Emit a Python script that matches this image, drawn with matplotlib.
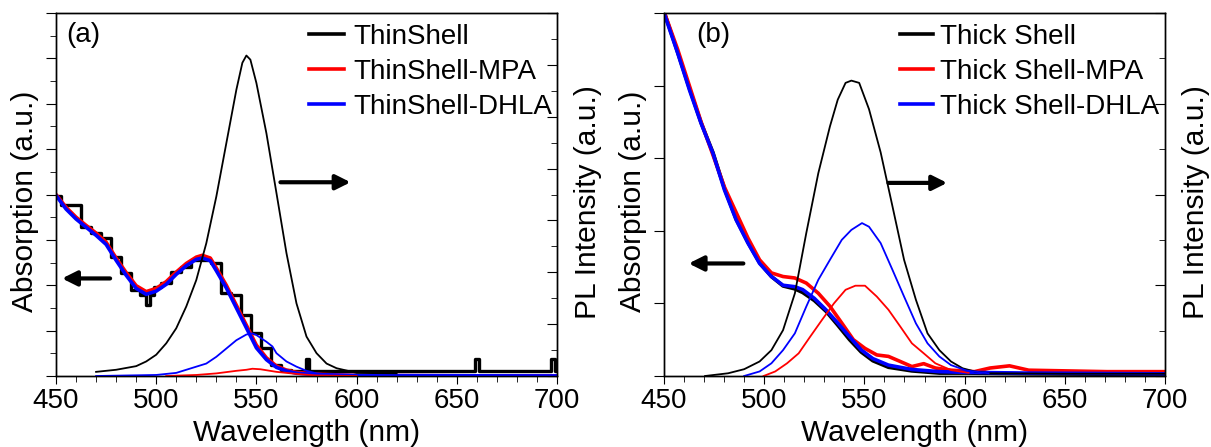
import numpy as np
import matplotlib
matplotlib.use("Agg")
import matplotlib.pyplot as plt
from matplotlib.ticker import MultipleLocator, NullFormatter

plt.rcParams['font.family'] = ['Liberation Sans', 'DejaVu Sans']

# ---------------- panel (a): thin shell ----------------
# absorption (left axis, arbitrary units 0..8)
wl_abs_a = [450, 455, 460, 465, 470, 475, 480, 485, 490, 495, 500, 505, 510, 515,
            520, 523, 527, 530, 535, 540, 545, 550, 555, 560, 565, 570, 580, 600, 700]
abs_mpa_a = [4.0, 3.72, 3.50, 3.32, 3.15, 2.95, 2.60, 2.28, 1.99, 1.86, 1.93, 2.08, 2.29,
             2.48, 2.62, 2.66, 2.60, 2.38, 2.00, 1.56, 1.12, 0.68, 0.40, 0.22, 0.13, 0.08,
             0.04, 0.01, 0.0]
abs_dhla_a = [3.98, 3.68, 3.46, 3.28, 3.10, 2.90, 2.55, 2.22, 1.93, 1.80, 1.87, 2.02, 2.24,
              2.43, 2.57, 2.60, 2.54, 2.32, 1.94, 1.50, 1.06, 0.62, 0.36, 0.19, 0.11, 0.06,
              0.03, 0.01, 0.0]
# bare thin shell absorption (coarse, stepped spectrum)
wl_abs_thin = [450, 455, 460, 465, 470, 475, 480, 485, 490, 494, 496, 498, 500, 505, 510,
               515, 520, 525, 530, 535, 540, 545, 550, 555, 560, 565, 570, 574, 575.5,
               577, 600, 620, 640, 658, 660, 662, 680, 696, 698, 700]
abs_thin = [3.96, 3.77, 3.77, 3.29, 3.15, 3.04, 2.63, 2.26, 1.90, 1.79, 1.57, 1.79, 1.97,
            2.04, 2.30, 2.41, 2.56, 2.56, 2.49, 1.82, 1.79, 1.35, 0.94, 0.61, 0.24, 0.13,
            0.10, 0.10, 0.37, 0.10, 0.10, 0.10, 0.10, 0.10, 0.37, 0.10, 0.10, 0.10, 0.37,
            0.10]

# PL (right axis, arbitrary units 0..7)
wl_pl_thin = [470, 480, 490, 495, 500, 505, 510, 515, 520, 525, 530, 535, 540, 543, 545,
              547, 550, 555, 560, 565, 570, 575, 580, 585, 590, 600, 620]
pl_thin = [0.08, 0.12, 0.19, 0.28, 0.41, 0.63, 0.92, 1.34, 1.85, 2.56, 3.46, 4.49, 5.52,
           6.04, 6.18, 6.10, 5.65, 4.68, 3.53, 2.37, 1.40, 0.76, 0.44, 0.24, 0.15, 0.06,
           0.05]
wl_pl_dhla_a = [470, 500, 510, 520, 525, 530, 535, 540, 545, 548, 550, 555, 558, 560, 565,
                570, 575, 580, 590, 600, 700]
pl_dhla_a = [0.0, 0.02, 0.06, 0.18, 0.24, 0.37, 0.53, 0.69, 0.80, 0.82, 0.79, 0.66, 0.57,
             0.44, 0.28, 0.18, 0.10, 0.05, 0.02, 0.01, 0.01]
wl_pl_mpa_a = [505, 520, 530, 540, 545, 548, 552, 560, 570, 580, 600]
pl_mpa_a = [0.0, 0.02, 0.05, 0.10, 0.12, 0.14, 0.13, 0.08, 0.04, 0.01, 0.0]

# ---------------- panel (b): thick shell ----------------
# absorption (left axis, arbitrary units 0..5)
wl_abs_b = [450, 456.8, 462.7, 468.5, 474.4, 480.2, 486, 491.9, 497.7, 503.6, 509.4,
            515.3, 519.2, 525, 530.9, 536.7, 542.6, 548.4, 554.2, 562, 573.7, 587.4, 601,
            632, 700]
abs_thick = [5.02, 4.46, 3.96, 3.49, 3.08, 2.58, 2.16, 1.84, 1.56, 1.37, 1.24, 1.20, 1.15,
             1.04, 0.89, 0.70, 0.50, 0.33, 0.21, 0.12, 0.07, 0.04, 0.04, 0.03, 0.02]
abs_dhla_b = [5.0, 4.45, 3.94, 3.48, 3.07, 2.56, 2.15, 1.83, 1.55, 1.37, 1.25, 1.23, 1.19,
              1.07, 0.91, 0.73, 0.54, 0.36, 0.24, 0.15, 0.09, 0.06, 0.05, 0.04, 0.03]
wl_abs_mpa_b = [450, 456.8, 468.5, 480.2, 491.9, 497.7, 503.6, 509.4, 515.3, 521, 527,
                532.8, 538.7, 544.5, 550.3, 556.2, 562, 567.9, 573.7, 579.6, 585.4, 593.2,
                604.9, 612.7, 622.4, 632, 651.5, 671, 700]
abs_mpa_b = [5.02, 4.5, 3.5, 2.6, 1.9, 1.6, 1.42, 1.37, 1.35, 1.28, 1.14, 0.96, 0.73, 0.50,
             0.38, 0.29, 0.27, 0.20, 0.13, 0.17, 0.11, 0.08, 0.06, 0.11, 0.14, 0.08, 0.07,
             0.06, 0.06]

# PL (right axis, arbitrary units 0..8)
wl_pl_thick = [470.5, 482, 490, 497.7, 503.6, 509.4, 515.3, 521, 527, 532.8, 536.7, 540.6,
               543.5, 547.4, 552.3, 558.1, 564, 569.8, 575.7, 581.5, 587.4, 593.2, 599, 605,
               612.7, 650, 700]
pl_thick = [0.0, 0.06, 0.15, 0.32, 0.57, 1.01, 1.82, 3.15, 4.47, 5.5, 6.09, 6.46, 6.51,
            6.46, 5.88, 4.93, 3.74, 2.56, 1.68, 0.94, 0.57, 0.32, 0.17, 0.10, 0.06, 0.05,
            0.05]
wl_pl_dhla_b = [490, 497.7, 503.6, 509.4, 515.3, 521, 527, 532.8, 538.7, 543.5, 548.8,
                552.3, 558.1, 564, 569.8, 575.7, 581.5, 587.4, 593.2, 601, 612]
pl_dhla_b = [0.0, 0.1, 0.28, 0.57, 0.94, 1.53, 2.12, 2.56, 3.0, 3.22, 3.37, 3.29, 2.93,
             2.34, 1.75, 1.16, 0.72, 0.43, 0.24, 0.12, 0.06]
wl_pl_mpa_b = [499.7, 505.5, 511.4, 517.2, 523, 528.9, 534.8, 540.6, 545.5, 550.3, 556.2,
               562, 567.9, 573.7, 579.6, 585.4, 593.2, 602]
pl_mpa_b = [0.0, 0.1, 0.28, 0.5, 0.87, 1.24, 1.60, 1.90, 1.99, 1.99, 1.75, 1.46, 1.09, 0.72,
            0.5, 0.28, 0.13, 0.07]

legend_a = ['ThinShell', 'ThinShell-MPA', 'ThinShell-DHLA']
legend_b = ['Thick Shell', 'Thick Shell-MPA', 'Thick Shell-DHLA']

fig = plt.figure(figsize=(12.11, 4.47), dpi=100)

TICK_FS = 20
LAB_FS = 21.5
LEG_FS = 20


def style_axes(ax, ax2, left_major, left_minor, right_major, right_minor):
    ax.set_xlim(450, 700)
    ax.xaxis.set_major_locator(MultipleLocator(50))
    ax.xaxis.set_minor_locator(MultipleLocator(10))
    ax.tick_params(axis='x', which='both', direction='out', top=False, labelsize=TICK_FS,
                   pad=3)
    ax.tick_params(axis='x', which='major', length=6)
    ax.tick_params(axis='x', which='minor', length=4)
    ax.yaxis.set_major_locator(MultipleLocator(left_major))
    if left_minor:
        ax.yaxis.set_minor_locator(MultipleLocator(left_minor))
    ax.yaxis.set_major_formatter(NullFormatter())
    ax.tick_params(axis='y', which='major', direction='out', length=7)
    ax.tick_params(axis='y', which='minor', direction='out', length=4)
    ax2.yaxis.set_major_locator(MultipleLocator(right_major))
    if right_minor:
        ax2.yaxis.set_minor_locator(MultipleLocator(right_minor))
    ax2.yaxis.set_major_formatter(NullFormatter())
    ax2.tick_params(axis='y', which='major', direction='in', length=7)
    ax2.tick_params(axis='y', which='minor', direction='in', length=4)
    for a in (ax, ax2):
        for s in a.spines.values():
            s.set_linewidth(1.0)
    ax.set_xlabel('Wavelength (nm)', fontsize=LAB_FS, labelpad=3)
    ax.set_ylabel('Absorption (a.u.)', fontsize=LAB_FS)
    ax2.set_ylabel('PL Intensity (a.u.)', fontsize=LAB_FS)
    ax.yaxis.set_label_coords(-0.034, 0.48)
    ax2.yaxis.set_label_coords(1.034, 0.48)


def arrow(ax, x0, x1, y):
    ax.annotate('', xy=(x1, y), xytext=(x0, y),
                arrowprops=dict(arrowstyle='-|>', color='black', lw=3,
                                mutation_scale=22, shrinkA=0, shrinkB=0))


h = [plt.Line2D([], [], color=c, lw=2.6) for c in ('black', 'red', 'blue')]

# ---- (a)
axa = fig.add_axes([56 / 1211, 71 / 447, 501 / 1211, 363 / 447])
axa2 = axa.twinx()
axa.plot(wl_abs_thin, abs_thin, color='black', lw=2.4, drawstyle='steps-mid')
axa.plot(wl_abs_a, abs_mpa_a, color='red', lw=2.6)
axa.plot(wl_abs_a, abs_dhla_a, color='blue', lw=2.6)
axa2.plot(wl_pl_thin, pl_thin, color='black', lw=1.3)
axa2.plot(wl_pl_dhla_a, pl_dhla_a, color='blue', lw=1.3)
axa2.plot(wl_pl_mpa_a, pl_mpa_a, color='red', lw=1.3)
axa.set_ylim(0, 8)
axa2.set_ylim(0, 7)
style_axes(axa, axa2, 1, 0.5, 1, 0.5)
arrow(axa, 477, 453, 2.15)
arrow(axa, 562, 597, 4.27)
axa.text(0.02, 0.94, '(a)', transform=axa.transAxes, fontsize=20, va='center')
axa.legend(h, legend_a, loc='upper left', bbox_to_anchor=(0.505, 0.97), frameon=False,
           fontsize=LEG_FS, handlelength=1.25, handletextpad=0.35, labelspacing=0.32,
           borderaxespad=0, borderpad=0)

# ---- (b)
axb = fig.add_axes([664 / 1211, 71 / 447, 501 / 1211, 363 / 447])
axb2 = axb.twinx()
axb.plot(wl_abs_b, abs_thick, color='black', lw=2.6)
axb.plot(wl_abs_mpa_b, abs_mpa_b, color='red', lw=2.6)
axb.plot(wl_abs_b, abs_dhla_b, color='blue', lw=2.6)
axb2.plot(wl_pl_thick, pl_thick, color='black', lw=1.3)
axb2.plot(wl_pl_mpa_b, pl_mpa_b, color='red', lw=1.3)
axb2.plot(wl_pl_dhla_b, pl_dhla_b, color='blue', lw=1.3)
axb.set_ylim(0, 5)
axb2.set_ylim(0, 8)
style_axes(axb, axb2, 1, None, 2, 1)
arrow(axb, 489.6, 462.3, 1.55)
arrow(axb, 562, 591.3, 2.66)
axb.text(0.065, 0.94, '(b)', transform=axb.transAxes, fontsize=20, va='center')
axb.legend(h, legend_b, loc='upper left', bbox_to_anchor=(0.471, 0.97), frameon=False,
           fontsize=LEG_FS, handlelength=1.2, handletextpad=0.25, labelspacing=0.32,
           borderaxespad=0, borderpad=0)

fig.savefig('out.png', dpi=100)
